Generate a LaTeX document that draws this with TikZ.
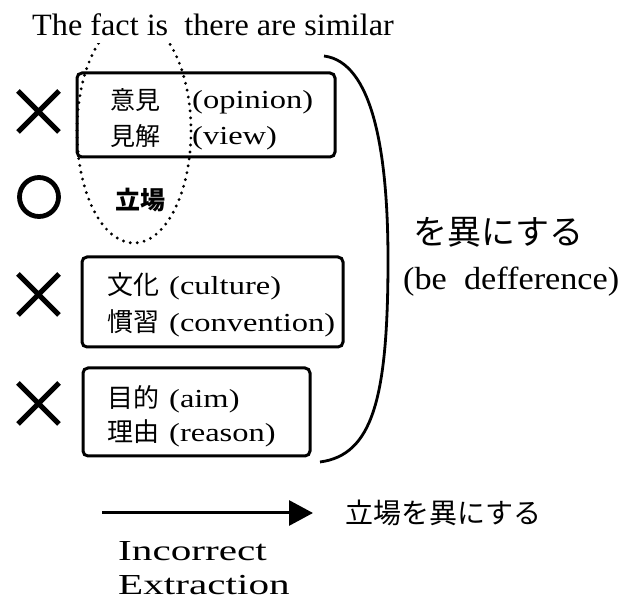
\documentclass[tikz,border=0pt]{standalone}
\usepackage{fontspec}
\usetikzlibrary{arrows.meta}
\setmainfont{Liberation Serif}
\newfontfamily\cjk{Noto Sans CJK JP}
\newfontfamily\tw[FakeStretch=1.04]{Liberation Serif}
\newfontfamily\bw[FakeStretch=1.07]{Liberation Serif}
\newfontfamily\cw[FakeStretch=1.25]{Liberation Serif}
\newfontfamily\ew[FakeStretch=1.42]{Liberation Serif}
\tikzset{
  boxst/.style={draw, line width=3pt, rounded corners=5pt, inner sep=0pt},
  txt/.style={anchor=base west, inner sep=0pt},
  crossst/.style={line width=5pt},
  dotst/.style={line width=3.2pt, line cap=round, dash pattern=on 0pt off 7pt},
  bracest/.style={line width=2.8pt},
}
\begin{document}
\begin{tikzpicture}[x=1pt,y=-1pt]
\useasboundingbox (0,0) rectangle (625,601);
% title
\node[txt] (title) at (32,36) {\tw\fontsize{31}{33}\selectfont The fact is~~there are similar};
% boxes
\node[boxst, minimum width=258pt, minimum height=84pt] (b1) at (206,115) {};
\node[boxst, minimum width=261pt, minimum height=90pt] (b2) at (212.5,302) {};
\node[boxst, minimum width=227pt, minimum height=88pt] (b3) at (196.5,412) {};
% box 1 text
\node[txt] (t1a) at (110,110) {\cjk\fontsize{25}{28}\selectfont 意見};
\node[txt] (t1b) at (110,146) {\cjk\fontsize{25}{28}\selectfont 見解};
\node[txt] (t1c) at (192,109) {\cw\fontsize{26}{28}\selectfont (opinion)};
\node[txt] (t1d) at (192,145) {\cw\fontsize{26}{28}\selectfont (view)};
% box 2 text
\node[txt] (t2a) at (107,295) {{\cjk\fontsize{26}{28}\selectfont 文化}\hspace{10pt}{\cw\fontsize{26}{28}\selectfont (culture)}};
\node[txt] (t2b) at (107,332) {{\cjk\fontsize{26}{28}\selectfont 慣習}\hspace{10pt}{\cw\fontsize{26}{28}\selectfont (convention)}};
% box 3 text
\node[txt] (t3a) at (107,408) {{\cjk\fontsize{26}{28}\selectfont 目的}\hspace{10pt}{\cw\fontsize{26}{28}\selectfont (aim)}};
\node[txt] (t3b) at (107,442) {{\cjk\fontsize{26}{28}\selectfont 理由}\hspace{10pt}{\cw\fontsize{26}{28}\selectfont (reason)}};
% standpoint
\node[txt] (pos) at (115,209.5) {\cjk\bfseries\fontsize{25}{28}\selectfont 立場};
% dotted ellipse
\begin{scope}
\clip (0,44) rectangle (625,601);
\draw[dotst] (134,131) ellipse [x radius=57, y radius=112];
\end{scope}
% marks
\draw[crossst] (18,91) -- (59,132) (18,132) -- (59,91);
\draw[line width=4.8pt] (39,197) circle [radius=19.5];
\draw[crossst] (18,274) -- (59,315) (18,315) -- (59,274);
\draw[crossst] (18,383) -- (59,424) (18,424) -- (59,383);
% brace
\draw[bracest] (324,56) .. controls (372,62) and (388,150) .. (388,260)
  .. controls (388,400) and (372,455) .. (320,462);
% right labels
\node[txt] (diff) at (413,245) {\cjk\fontsize{34}{36}\selectfont を異にする};
\node[txt] (diffen) at (403,290) {\bw\fontsize{32}{34}\selectfont (be~~defference)};
% arrow
\coordinate (astart) at (102,513);
\node[txt] (res) at (345,523.6) {\cjk\fontsize{28}{30}\selectfont 立場を異にする};
\draw[line width=3pt, -{Triangle[length=24pt,width=25pt]}, shorten >=32pt] (astart) -- (astart -| res.west);
\node[txt] (inc) at (118,561) {\ew\fontsize{29}{32}\selectfont Incorrect};
\node[txt] (ext) at (118,595) {\ew\fontsize{29}{32}\selectfont Extraction};
\end{tikzpicture}
\end{document}
